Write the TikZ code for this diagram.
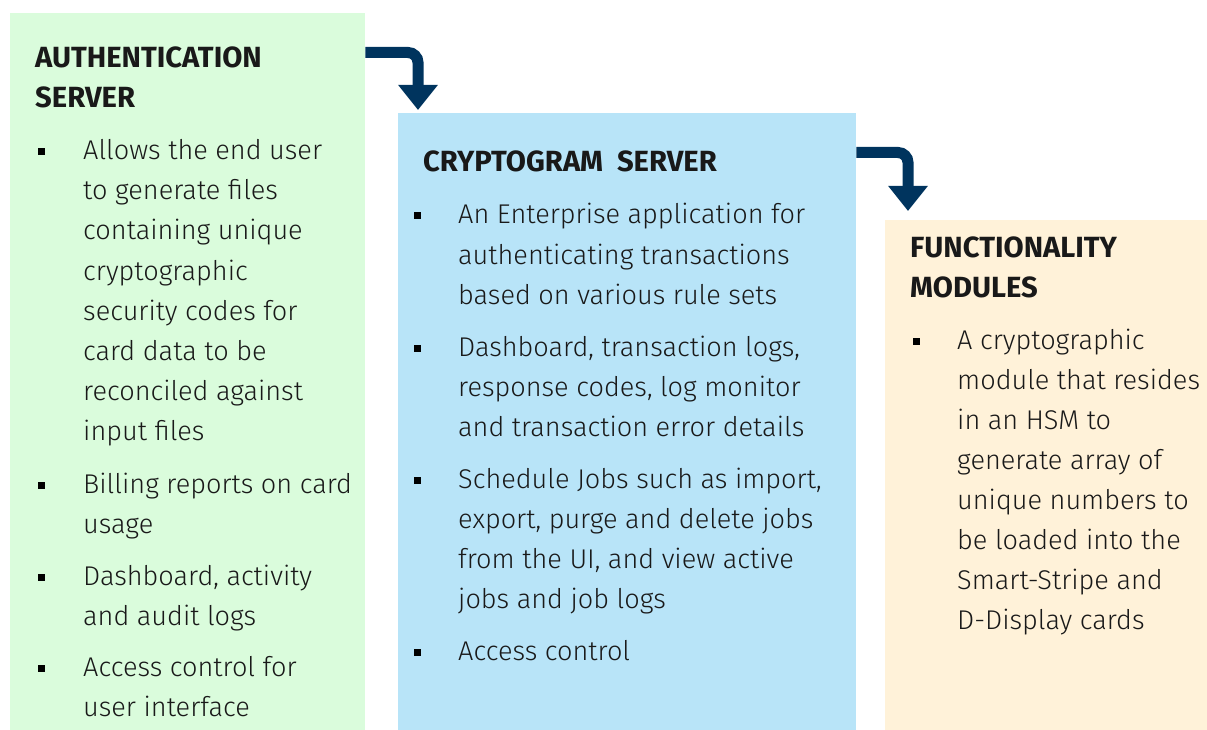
\documentclass[tikz,border=0pt]{standalone}
\usepackage{fontspec}
\setmainfont{Fira Sans Light}[BoldFont=Fira Sans Bold]
\usetikzlibrary{arrows.meta}
\definecolor{authgreen}{RGB}{218,252,220}
\definecolor{cryptblue}{RGB}{184,228,248}
\definecolor{funcbeige}{RGB}{255,242,217}
\definecolor{navy}{RGB}{0,52,94}
\tikzset{
  panel/.style={fill=#1, draw=none, inner sep=0pt, anchor=north west},
  body/.style={anchor=base west, inner sep=0pt, font=\fontsize{27.1}{40}\selectfont, text=black!90},
  head/.style={anchor=base west, inner sep=0pt, font=\fontsize{29.2}{40}\selectfont\bfseries, text=black!90},
  bul/.style={fill=black, draw=none, minimum size=7pt, inner sep=0pt},
  flow/.style={line width=11pt, draw=navy, rounded corners=10pt, -{Triangle[width=38pt,length=25pt]}}
}
\begin{document}
\begin{tikzpicture}[x=1pt,y=-1pt]
\useasboundingbox (0,0) rectangle (1207,730);
% panels
\node[panel=authgreen, minimum width=355pt, minimum height=717pt] (auth) at (10,13) {};
\node[panel=cryptblue, minimum width=458pt, minimum height=617pt] (crypt) at (398,113) {};
\node[panel=funcbeige, minimum width=322pt, minimum height=510pt] (func) at (885,220) {};
% connectors
\coordinate (a1s) at (auth.east |- 0,52.5);
\coordinate (a1e) at (418,110);
\draw[flow] (a1s) -| (a1e);
\coordinate (a2s) at (crypt.east |- 0,152.5);
\coordinate (a2e) at (908,211);
\draw[flow] (a2s) -| (a2e);
% authentication server
\node[head] (h1a) at (35,68) {AUTHENTICATION};
\node[head] (h1b) at (35,108) {SERVER};
\foreach \y/\t [count=\i] in {160/Allows the end user, 200/to generate files, 240/containing unique, 280/cryptographic, 320/security codes for, 360/card data to be, 400/reconciled against, 440/input files, 493/Billing reports on card, 533/usage, 585/{Dashboard, activity}, 625/and audit logs, 676/Access control for, 716/user interface}
  \node[body] (g\i) at (83,\y) {\t};
\foreach \y [count=\i] in {160,493,585,676}
  \node[bul] (gb\i) at (41,\y-8) {};
% cryptogram server
\node[head] (h2) at (423,172) {CRYPTOGRAM\ \ SERVER};
\foreach \y/\t [count=\i] in {224/An Enterprise application for, 264/authenticating transactions, 304/based on various rule sets, 356/{Dashboard, transaction logs,}, 396/{response codes, log monitor}, 436/and transaction error details, 488/{Schedule Jobs such as import,}, 528/{export, purge and delete jobs}, 568/{from the UI, and view active}, 608/jobs and job logs, 660/Access control}
  \node[body] (c\i) at (458,\y) {\t};
\foreach \y [count=\i] in {224,356,488,660}
  \node[bul] (cb\i) at (417,\y-8) {};
% functionality modules
\node[head] (h3a) at (910,257) {FUNCTIONALITY};
\node[head] (h3b) at (910,297) {MODULES};
\foreach \y/\t [count=\i] in {349/A cryptographic, 389/module that resides, 429/in an HSM to, 469/generate array of, 509/unique numbers to, 549/be loaded into the, 589/Smart-Stripe and, 629/D-Display cards}
  \node[body] (f\i) at (957,\y) {\t};
\node[bul] (fb1) at (916,341) {};
\end{tikzpicture}
\end{document}
